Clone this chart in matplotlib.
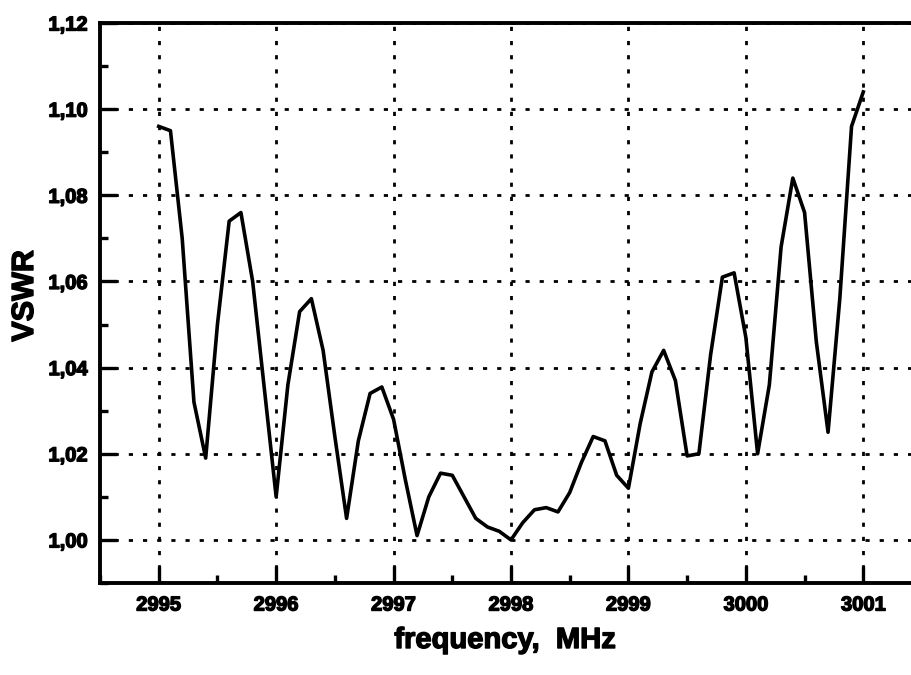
import numpy as np
import matplotlib
matplotlib.use('Agg')
import matplotlib.pyplot as plt
import matplotlib.patheffects as pe
from matplotlib.ticker import MultipleLocator, FuncFormatter

freq = np.round(np.arange(2995.0, 3001.01, 0.1), 1)
vswr = [1.096, 1.095, 1.070, 1.032, 1.019, 1.050, 1.074, 1.076, 1.060, 1.035,
        1.010, 1.036, 1.053, 1.056, 1.044, 1.024, 1.005, 1.023, 1.034, 1.0355,
        1.028, 1.014, 1.001, 1.010, 1.0155, 1.015, 1.010, 1.005, 1.003, 1.002,
        1.000, 1.004, 1.007, 1.0075, 1.0065, 1.011, 1.018, 1.024, 1.023, 1.015,
        1.012, 1.027, 1.039, 1.044, 1.037, 1.0195, 1.020, 1.043, 1.061, 1.062,
        1.047, 1.020, 1.036, 1.068, 1.084, 1.076, 1.046, 1.025, 1.056, 1.096,
        1.104]

x_ticks = [2995, 2996, 2997, 2998, 2999, 3000, 3001]
y_ticks = [1.00, 1.02, 1.04, 1.06, 1.08, 1.10, 1.12]

plt.rcParams['font.family'] = ['Liberation Sans', 'DejaVu Sans']
plt.rcParams['font.weight'] = 'bold'

# scanned text looks heavier than plain bold
heavy = [pe.withStroke(linewidth=1.0, foreground='black')]

fig = plt.figure(figsize=(9.12, 6.75), dpi=100)
# right spine sits just past the image edge, as in the scan
ax = fig.add_axes([100 / 912, 1 - 583 / 675, 822 / 912, 560 / 675])

ax.plot(freq, vswr, color='black', lw=2.6, zorder=3)

ax.set_xlim(2994.5, 3001.5)
ax.set_ylim(0.99, 1.12)
ax.set_xticks(x_ticks)
ax.set_yticks(y_ticks)
ax.xaxis.set_minor_locator(MultipleLocator(0.5))
ax.yaxis.set_minor_locator(MultipleLocator(0.01))
ax.yaxis.set_major_formatter(FuncFormatter(lambda v, p: f'{v:.2f}'.replace('.', ',')))

ax.tick_params(which='major', direction='in', length=12, width=2.4,
               labelsize=14.5, pad=9, top=False, right=False)
ax.tick_params(which='minor', direction='in', length=6, width=2.4,
               top=False, right=False)
for lab in ax.get_xticklabels() + ax.get_yticklabels():
    lab.set_path_effects(heavy)

ax.grid(True, which='major', color='black', lw=2.0, linestyle=(0, (1.5, 3.6)))

for s in ax.spines.values():
    s.set_linewidth(2.8)

ax.set_xlabel('frequency,  MHz', fontsize=21, fontweight='bold', path_effects=heavy)
ax.set_ylabel('VSWR', fontsize=22, fontweight='bold', path_effects=heavy)
ax.xaxis.set_label_coords((505 - 100) / 822, -(640 - 583) / 560)
ax.yaxis.set_label_coords(-(100 - 25) / 822, (583 - 296) / 560)
ax.xaxis.label.set_va('center')
ax.yaxis.label.set_va('center')

fig.savefig('out.png', dpi=100)
